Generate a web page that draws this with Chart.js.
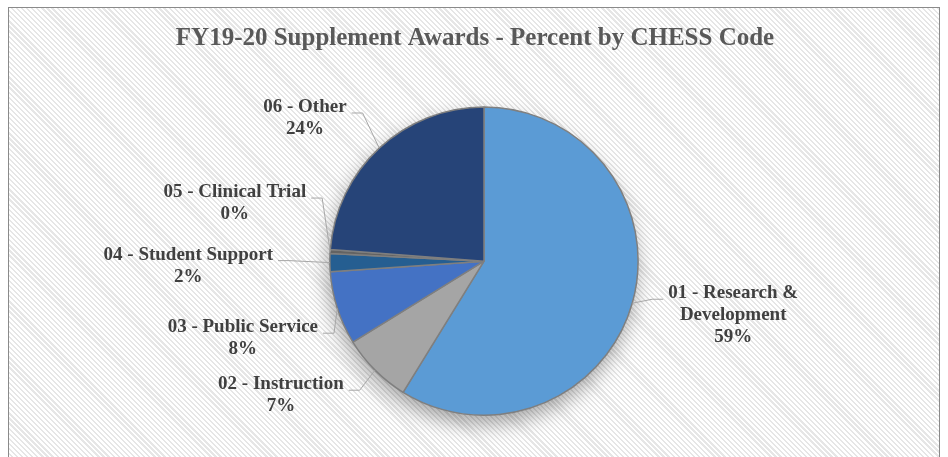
<!DOCTYPE html>
<html>
<head>
<meta charset="utf-8">
<script src="https://cdn.jsdelivr.net/npm/chart.js@4.4.1/dist/chart.umd.min.js"></script>
<style>
  html, body { margin: 0; padding: 0; background: #fff; }
  #wrap { position: relative; width: 948px; height: 457px; overflow: hidden; }
  #frame {
    position: absolute; left: 8px; top: 7px; width: 930px; height: 470px;
    border: 1px solid #8a8a8a;
    background: repeating-linear-gradient(45deg, #ffffff 0px, #ffffff 2px, #e6e6e6 2px, #e6e6e6 3.6px);
  }
  #chart { position: absolute; left: 0; top: 0; }
</style>
</head>
<body>
<div id="wrap">
  <div id="frame"></div>
  <canvas id="chart" width="948" height="457"></canvas>
</div>
<script>
// data
const chartTitle = "FY19-20 Supplement Awards - Percent by CHESS Code";
const categories = [
  ["01 - Research &", "Development"],
  ["02 - Instruction"],
  ["03 - Public Service"],
  ["04 - Student Support"],
  ["05 - Clinical Trial"],
  ["06 - Other"]
];
const percentValues = [58.8, 7.4, 7.7, 1.9, 0.4, 23.8];
const sliceColors = ["#5B9BD5", "#A5A5A5", "#4472C4", "#255E91", "#636363", "#264478"];

// where each label block sits, relative to the pie centre (in radii)
const labelSpots = [
  [1.617, 0.351],
  [-1.318, 0.870],
  [-1.565, 0.500],
  [-1.919, 0.029],
  [-1.617, -0.377],
  [-1.162, -0.929]
];

/*
 TITLE (centred on the whole frame, not the plot)
*/
const frameTitle = {
  id: "frameTitle",
  afterDraw(chart) {
    const ctx = chart.ctx;
    ctx.save();
    ctx.font = "bold 25px 'Liberation Serif', 'Times New Roman', serif";
    ctx.fillStyle = "#595959";
    ctx.textAlign = "center";
    ctx.textBaseline = "middle";
    ctx.fillText(chartTitle, chart.width / 2 + 1, 39);
    ctx.restore();
  }
};

/*
 SHADOW UNDER PIE
*/
const pieShadow = {
  id: "pieShadow",
  beforeDatasetsDraw(chart) {
    const arc = chart.getDatasetMeta(0).data[0];
    if (!arc) return;
    const { x, y, outerRadius } = arc.getProps(["x", "y", "outerRadius"], true);
    const ctx = chart.ctx;
    ctx.save();
    ctx.shadowColor = "rgba(0,0,0,0.35)";
    ctx.shadowBlur = 20;
    ctx.shadowOffsetX = -2;
    ctx.shadowOffsetY = 9;
    ctx.fillStyle = "#ffffff";
    ctx.beginPath();
    ctx.arc(x, y, outerRadius, 0, Math.PI * 2);
    ctx.fill();
    ctx.restore();
  }
};

/*
 OUTSIDE LABELS + LEADER LINES
*/
const outsideLabels = {
  id: "outsideLabels",
  afterDatasetsDraw(chart) {
    const ctx = chart.ctx;
    const meta = chart.getDatasetMeta(0);
    const values = chart.data.datasets[0].data;
    const total = values.reduce((a, b) => a + b, 0);
    const lineH = 22;

    ctx.save();
    ctx.font = "bold 19px 'Liberation Serif', 'Times New Roman', serif";
    ctx.textAlign = "center";
    ctx.textBaseline = "middle";

    meta.data.forEach((arc, i) => {
      const p = arc.getProps(["x", "y", "startAngle", "endAngle", "outerRadius"], true);
      const lines = [].concat(chart.data.labels[i]);
      lines.push(Math.round(values[i] / total * 100) + "%");

      const cx = p.x + labelSpots[i][0] * p.outerRadius;
      const cy = p.y + labelSpots[i][1] * p.outerRadius;
      const top = cy - (lines.length - 1) * lineH / 2;

      // leader line
      const mid = (p.startAngle + p.endAngle) / 2;
      const ax = p.x + Math.cos(mid) * p.outerRadius;
      const ay = p.y + Math.sin(mid) * p.outerRadius;
      const w = ctx.measureText(lines[0]).width;
      const right = cx > p.x;
      const tx = right ? cx - w / 2 - 5 : cx + w / 2 + 5;
      const ty = top + 6;
      const ex = right ? tx - 11 : tx + 11;

      ctx.strokeStyle = "#a6a6a6";
      ctx.lineWidth = 1;
      ctx.beginPath();
      ctx.moveTo(ax, ay);
      ctx.lineTo(ex, ty);
      ctx.lineTo(tx, ty);
      ctx.stroke();

      ctx.fillStyle = "#404040";
      lines.forEach((t, k) => ctx.fillText(t, cx, top + k * lineH));
    });
    ctx.restore();
  }
};

/*
 CHART
*/
const ctx = document.getElementById("chart").getContext("2d");

new Chart(ctx, {
  type: "pie",
  data: {
    labels: categories,
    datasets: [
      {
        data: percentValues,
        backgroundColor: sliceColors,
        borderColor: "#7f7f7f",
        borderWidth: 1.5
      }
    ]
  },
  options: {
    responsive: false,
    animation: false,
    layout: {
      padding: { top: 106.3, left: 20, right: 0, bottom: 41 }
    },
    plugins: {
      legend: { display: false },
      tooltip: { enabled: false },
      title: { display: false }
    }
  },
  plugins: [pieShadow, outsideLabels, frameTitle]
});
</script>
</body>
</html>
